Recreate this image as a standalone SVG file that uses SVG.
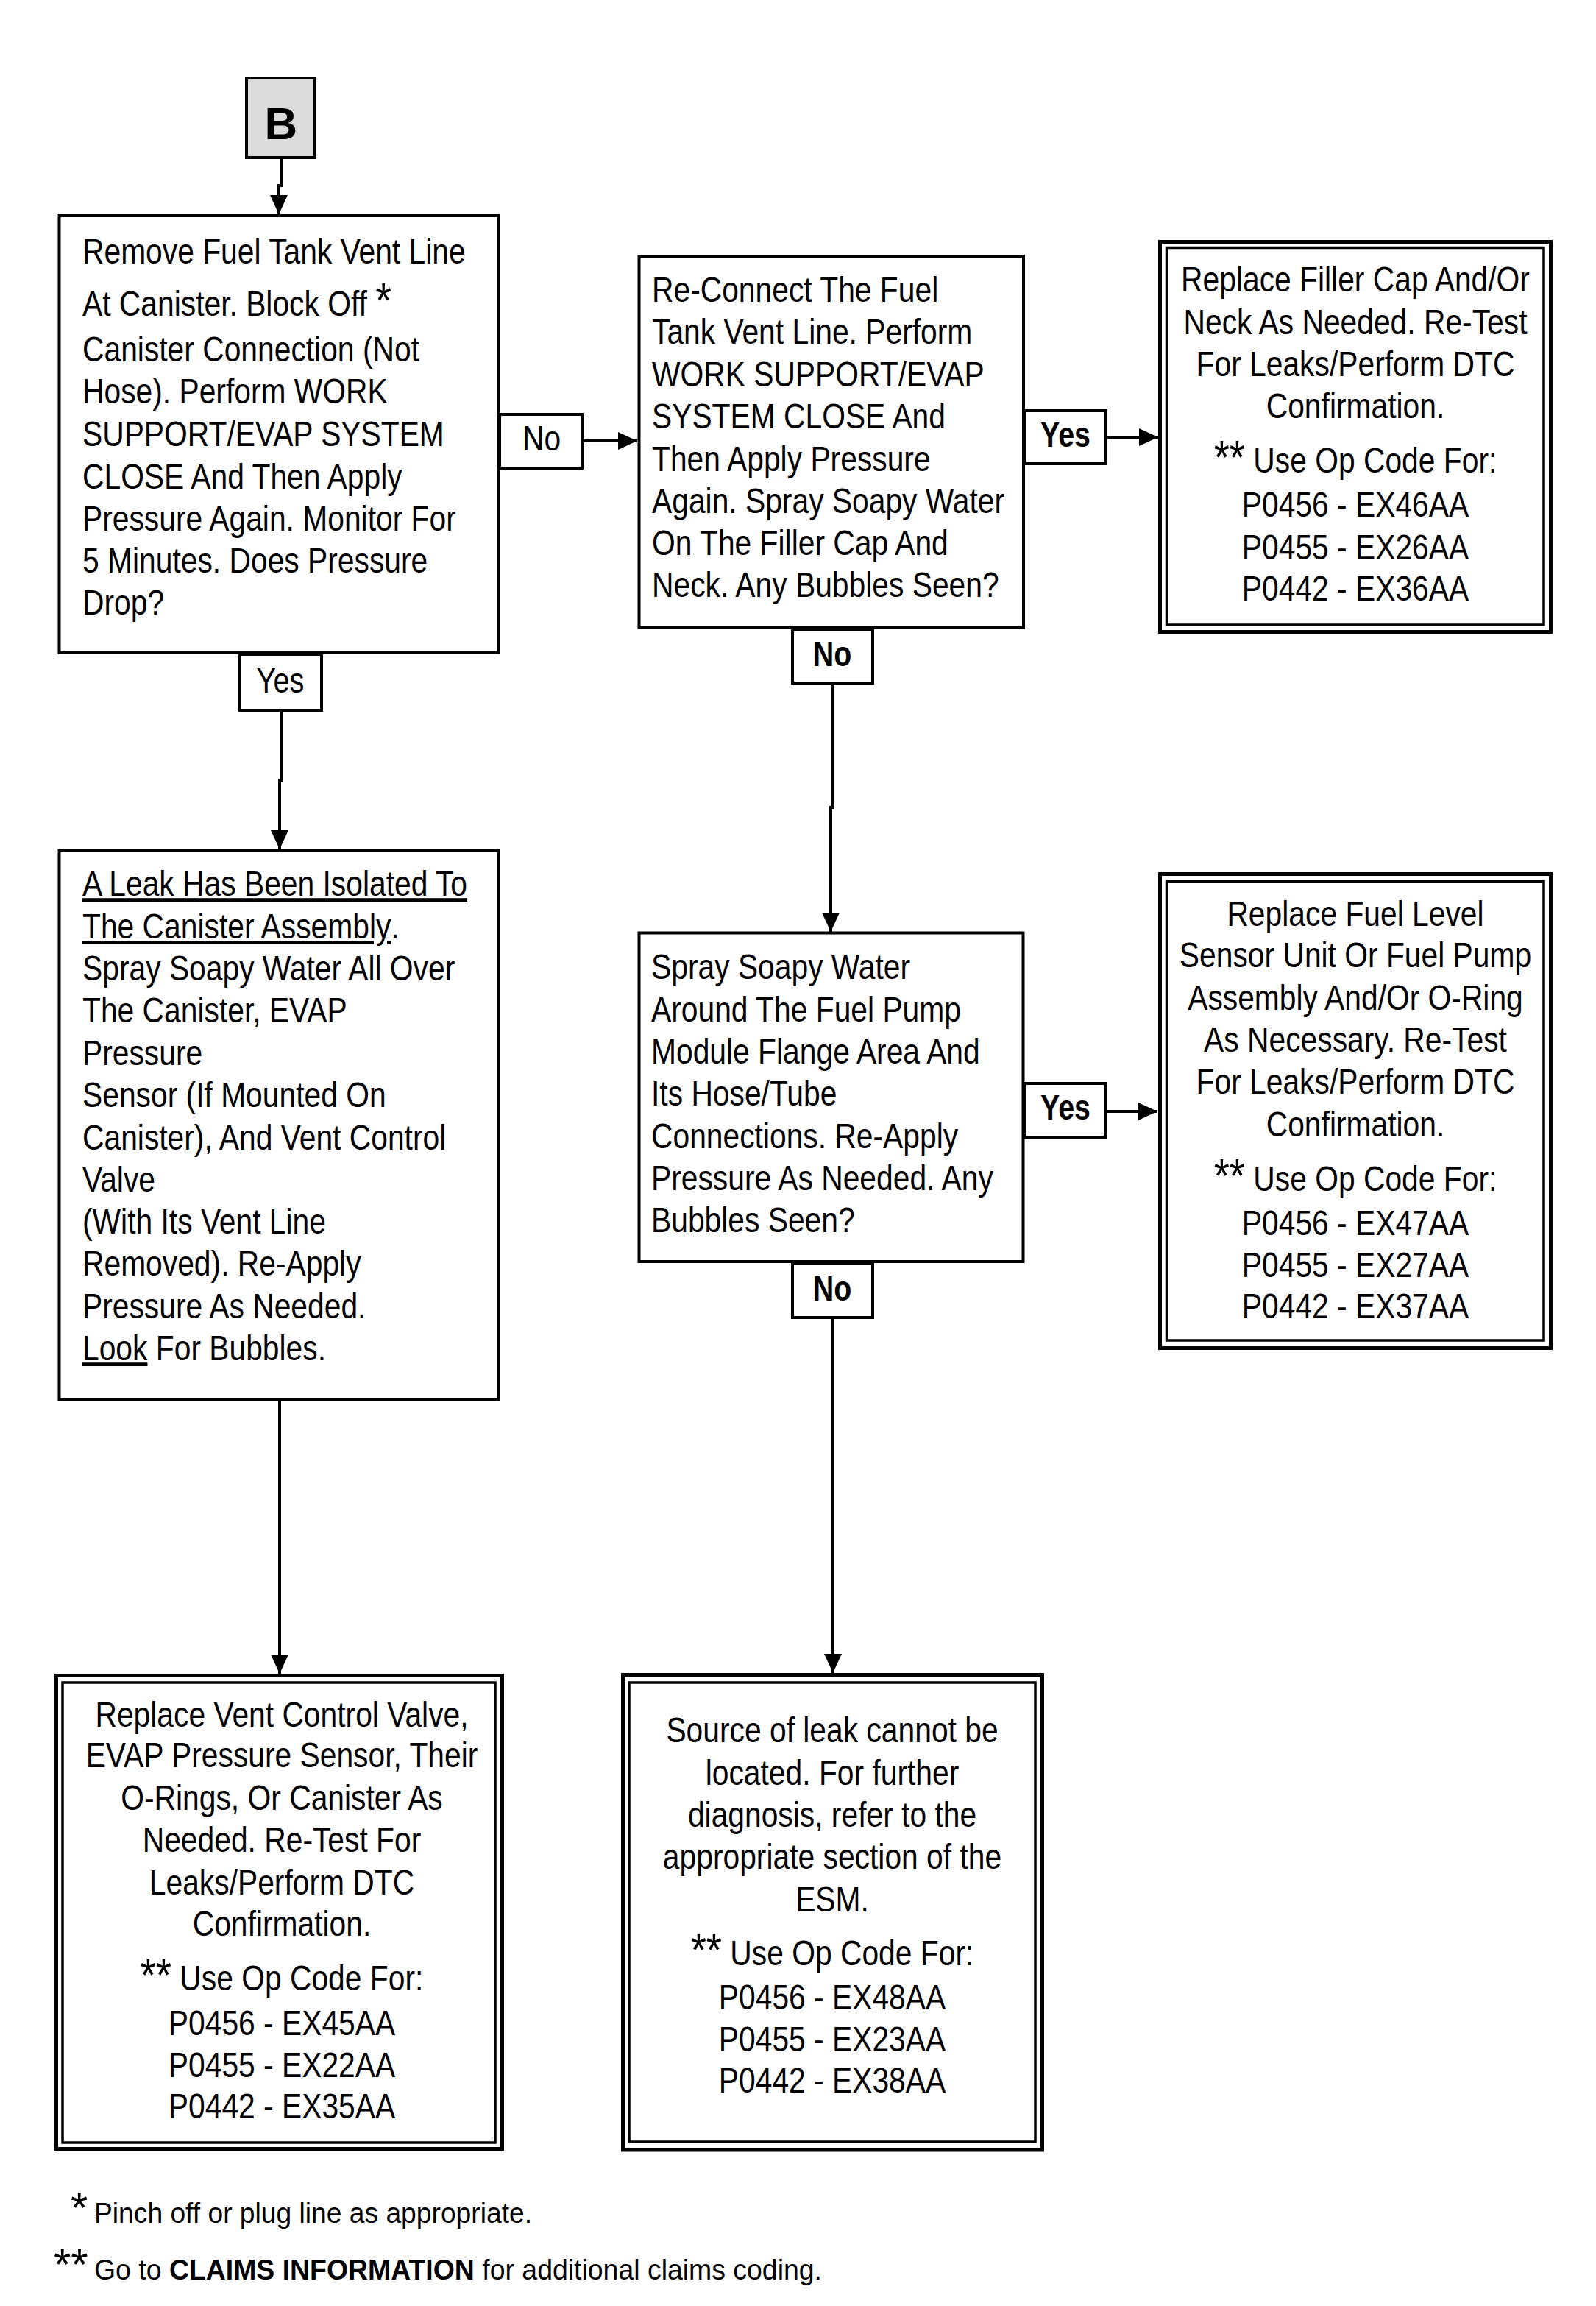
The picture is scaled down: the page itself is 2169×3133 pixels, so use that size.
<svg xmlns="http://www.w3.org/2000/svg" width="2169" height="3133" viewBox="0 0 2169 3133">
<style>
.bx{fill:#fff;stroke:#000;stroke-width:4}
.ob{fill:#fff;stroke:#000;stroke-width:5}
.ib{fill:none;stroke:#000;stroke-width:3.5}
.ln{fill:none;stroke:#000;stroke-width:4}
.t{font-family:"Liberation Sans",Arial,sans-serif;font-size:48px;fill:#000}
.c{text-anchor:middle}
.b{font-weight:bold}
.st{font-size:64px}
.fn{font-family:"Liberation Sans",Arial,sans-serif;font-size:38px;fill:#000}
.fa{font-family:"Liberation Sans",Arial,sans-serif;font-size:60px;fill:#000}
.u{text-decoration:underline}
</style>
<defs>
<marker id="ah" markerUnits="userSpaceOnUse" markerWidth="26" markerHeight="24" refX="26" refY="12" orient="auto" viewBox="0 0 26 24">
<path d="M0,0 L26,12 L0,24 z" fill="#000"/>
</marker>
</defs>
<rect width="2169" height="3133" fill="#fff"/>

<g id="connectors">
<path class="ln" d="M382,216 V252 H379 V291" marker-end="url(#ah)"/>
<path class="ln" d="M791,599 H866" marker-end="url(#ah)"/>
<path class="ln" d="M382,967 V1060 H380 V1154" marker-end="url(#ah)"/>
<path class="ln" d="M1503,594 H1574" marker-end="url(#ah)"/>
<path class="ln" d="M1131,930 V1097 H1129 V1266" marker-end="url(#ah)"/>
<path class="ln" d="M1502,1510 H1573" marker-end="url(#ah)"/>
<path class="ln" d="M1132,1792 V2273" marker-end="url(#ah)"/>
<path class="ln" d="M380,1904 V2274" marker-end="url(#ah)"/>
</g>

<g id="start-B">
<rect x="335" y="106" width="93" height="108" fill="#dcdcdc" stroke="#000" stroke-width="4"/>
<text class="t b c" x="382" y="189" style="font-size:62px">B</text>
</g>

<g id="box1">
<rect class="bx" x="80.5" y="293" width="597" height="594"/>
<g transform="translate(112,0) scale(0.85,1)">
<text class="t" x="0" y="358">Remove Fuel Tank Vent Line</text>
<text class="t" x="0" y="429">At Canister. Block Off <tspan style="font-size:66px" dy="2">*</tspan></text>
<text class="t" x="0" y="491">Canister Connection (Not</text>
<text class="t" x="0" y="548">Hose). Perform WORK</text>
<text class="t" x="0" y="606">SUPPORT/EVAP SYSTEM</text>
<text class="t" x="0" y="664">CLOSE And Then Apply</text>
<text class="t" x="0" y="721">Pressure Again. Monitor For</text>
<text class="t" x="0" y="778">5 Minutes. Does Pressure</text>
<text class="t" x="0" y="835">Drop?</text>
</g>
</g>

<g id="box2">
<rect class="bx" x="868.5" y="348" width="522.5" height="505"/>
<g transform="translate(886,0) scale(0.85,1)">
<text class="t" x="0" y="410">Re-Connect The Fuel</text>
<text class="t" x="0" y="467">Tank Vent Line. Perform</text>
<text class="t" x="0" y="525">WORK SUPPORT/EVAP</text>
<text class="t" x="0" y="582">SYSTEM CLOSE And</text>
<text class="t" x="0" y="640">Then Apply Pressure</text>
<text class="t" x="0" y="697">Again. Spray Soapy Water</text>
<text class="t" x="0" y="754">On The Filler Cap And</text>
<text class="t" x="0" y="811">Neck. Any Bubbles Seen?</text>
</g>
</g>

<g id="box3">
<rect class="ob" x="1576.5" y="328.5" width="531" height="530"/>
<rect class="ib" x="1585.5" y="336.5" width="512.5" height="512.5"/>
<g transform="translate(1842,0) scale(0.85,1)">
<text class="t c" x="0" y="396">Replace Filler Cap And/Or</text>
<text class="t c" x="0" y="454">Neck As Needed. Re-Test</text>
<text class="t c" x="0" y="511">For Leaks/Perform DTC</text>
<text class="t c" x="0" y="568">Confirmation.</text>
<text class="t c" x="0" y="642"><tspan class="st" dy="2">**</tspan><tspan dy="-2">  Use Op Code For:</tspan></text>
<text class="t c" x="0" y="702">P0456 - EX46AA</text>
<text class="t c" x="0" y="760">P0455 - EX26AA</text>
<text class="t c" x="0" y="816">P0442 - EX36AA</text>
</g>
</g>

<g id="box4">
<rect class="bx" x="868.5" y="1267.5" width="522" height="446.5"/>
<g transform="translate(885,0) scale(0.85,1)">
<text class="t" x="0" y="1330">Spray Soapy Water</text>
<text class="t" x="0" y="1388">Around The Fuel Pump</text>
<text class="t" x="0" y="1445">Module Flange Area And</text>
<text class="t" x="0" y="1502">Its Hose/Tube</text>
<text class="t" x="0" y="1560">Connections. Re-Apply</text>
<text class="t" x="0" y="1617">Pressure As Needed. Any</text>
<text class="t" x="0" y="1674">Bubbles Seen?</text>
</g>
</g>

<g id="box5">
<rect class="ob" x="1576.5" y="1187.5" width="531" height="644"/>
<rect class="ib" x="1585.5" y="1197.5" width="512.5" height="623.5"/>
<g transform="translate(1842,0) scale(0.85,1)">
<text class="t c" x="0" y="1258">Replace Fuel Level</text>
<text class="t c" x="0" y="1314">Sensor Unit Or Fuel Pump</text>
<text class="t c" x="0" y="1372">Assembly And/Or O-Ring</text>
<text class="t c" x="0" y="1429">As Necessary. Re-Test</text>
<text class="t c" x="0" y="1486">For Leaks/Perform DTC</text>
<text class="t c" x="0" y="1544">Confirmation.</text>
<text class="t c" x="0" y="1618"><tspan class="st" dy="2">**</tspan><tspan dy="-2">  Use Op Code For:</tspan></text>
<text class="t c" x="0" y="1678">P0456 - EX47AA</text>
<text class="t c" x="0" y="1735">P0455 - EX27AA</text>
<text class="t c" x="0" y="1791">P0442 - EX37AA</text>
</g>
</g>

<g id="box6">
<rect class="bx" x="80.5" y="1156" width="597.5" height="746"/>
<g transform="translate(112,0) scale(0.85,1)">
<text class="t" x="0" y="1217"><tspan class="u">A Leak Has Been Isolated To</tspan></text>
<text class="t" x="0" y="1275"><tspan class="u">The Canister Assembly</tspan>.</text>
<text class="t" x="0" y="1332">Spray Soapy Water All Over</text>
<text class="t" x="0" y="1389">The Canister, EVAP</text>
<text class="t" x="0" y="1447">Pressure</text>
<text class="t" x="0" y="1504">Sensor (If Mounted On</text>
<text class="t" x="0" y="1562">Canister), And Vent Control</text>
<text class="t" x="0" y="1619">Valve</text>
<text class="t" x="0" y="1676">(With Its Vent Line</text>
<text class="t" x="0" y="1733">Removed). Re-Apply</text>
<text class="t" x="0" y="1791">Pressure As Needed.</text>
<text class="t" x="0" y="1848"><tspan class="u">Look</tspan> For Bubbles.</text>
</g>
</g>

<g id="box7">
<rect class="ob" x="76.5" y="2276.5" width="606" height="643"/>
<rect class="ib" x="85" y="2286" width="588" height="625"/>
<g transform="translate(383,0) scale(0.85,1)">
<text class="t c" x="0" y="2346">Replace Vent Control Valve,</text>
<text class="t c" x="0" y="2401">EVAP Pressure Sensor, Their</text>
<text class="t c" x="0" y="2459">O-Rings, Or Canister As</text>
<text class="t c" x="0" y="2516">Needed. Re-Test For</text>
<text class="t c" x="0" y="2574">Leaks/Perform DTC</text>
<text class="t c" x="0" y="2630">Confirmation.</text>
<text class="t c" x="0" y="2704"><tspan class="st" dy="2">**</tspan><tspan dy="-2">  Use Op Code For:</tspan></text>
<text class="t c" x="0" y="2765">P0456 - EX45AA</text>
<text class="t c" x="0" y="2822">P0455 - EX22AA</text>
<text class="t c" x="0" y="2878">P0442 - EX35AA</text>
</g>
</g>

<g id="box8">
<rect class="ob" x="846.5" y="2275.5" width="570" height="645.5"/>
<rect class="ib" x="855" y="2286" width="552" height="624"/>
<g transform="translate(1131,0) scale(0.85,1)">
<text class="t c" x="0" y="2367">Source of leak cannot be</text>
<text class="t c" x="0" y="2425">located. For further</text>
<text class="t c" x="0" y="2482">diagnosis, refer to the</text>
<text class="t c" x="0" y="2539">appropriate section of the</text>
<text class="t c" x="0" y="2597">ESM.</text>
<text class="t c" x="0" y="2670"><tspan class="st" dy="2">**</tspan><tspan dy="-2"> Use Op Code For:</tspan></text>
<text class="t c" x="0" y="2730">P0456 - EX48AA</text>
<text class="t c" x="0" y="2787">P0455 - EX23AA</text>
<text class="t c" x="0" y="2843">P0442 - EX38AA</text>
</g>
</g>

<g id="labels">
<g id="lbl-no-1">
<rect class="bx" x="679" y="563" width="112" height="73"/>
<text class="t c" transform="translate(736,0) scale(0.85,1)" x="0" y="612">No</text>
</g>
<g id="lbl-yes-1">
<rect class="bx" x="326" y="889" width="111" height="76"/>
<text class="t c" transform="translate(381,0) scale(0.83,1)" x="0" y="941">Yes</text>
</g>
<g id="lbl-yes-2">
<rect class="bx" x="1393" y="558" width="110" height="72"/>
<text class="t c b" transform="translate(1448,0) scale(0.82,1)" x="0" y="607">Yes</text>
</g>
<g id="lbl-no-2">
<rect class="bx" x="1077" y="855" width="109" height="73"/>
<text class="t c b" transform="translate(1131,0) scale(0.82,1)" x="0" y="905">No</text>
</g>
<g id="lbl-yes-3">
<rect class="bx" x="1393" y="1472" width="109" height="73"/>
<text class="t c b" transform="translate(1448,0) scale(0.82,1)" x="0" y="1521">Yes</text>
</g>
<g id="lbl-no-3">
<rect class="bx" x="1077" y="1716" width="109" height="74"/>
<text class="t c b" transform="translate(1131,0) scale(0.82,1)" x="0" y="1767">No</text>
</g>
</g>

<g id="footnotes">
<text class="fa" x="96" y="3020">*</text>
<text class="fn" x="128" y="3020" textLength="595" lengthAdjust="spacingAndGlyphs">Pinch off or plug line as appropriate.</text>
<text class="fa" x="73" y="3097">**</text>
<text class="fn" x="128" y="3097" textLength="989" lengthAdjust="spacingAndGlyphs">Go to <tspan font-weight="bold">CLAIMS INFORMATION</tspan> for additional claims coding.</text>
</g>
</svg>
